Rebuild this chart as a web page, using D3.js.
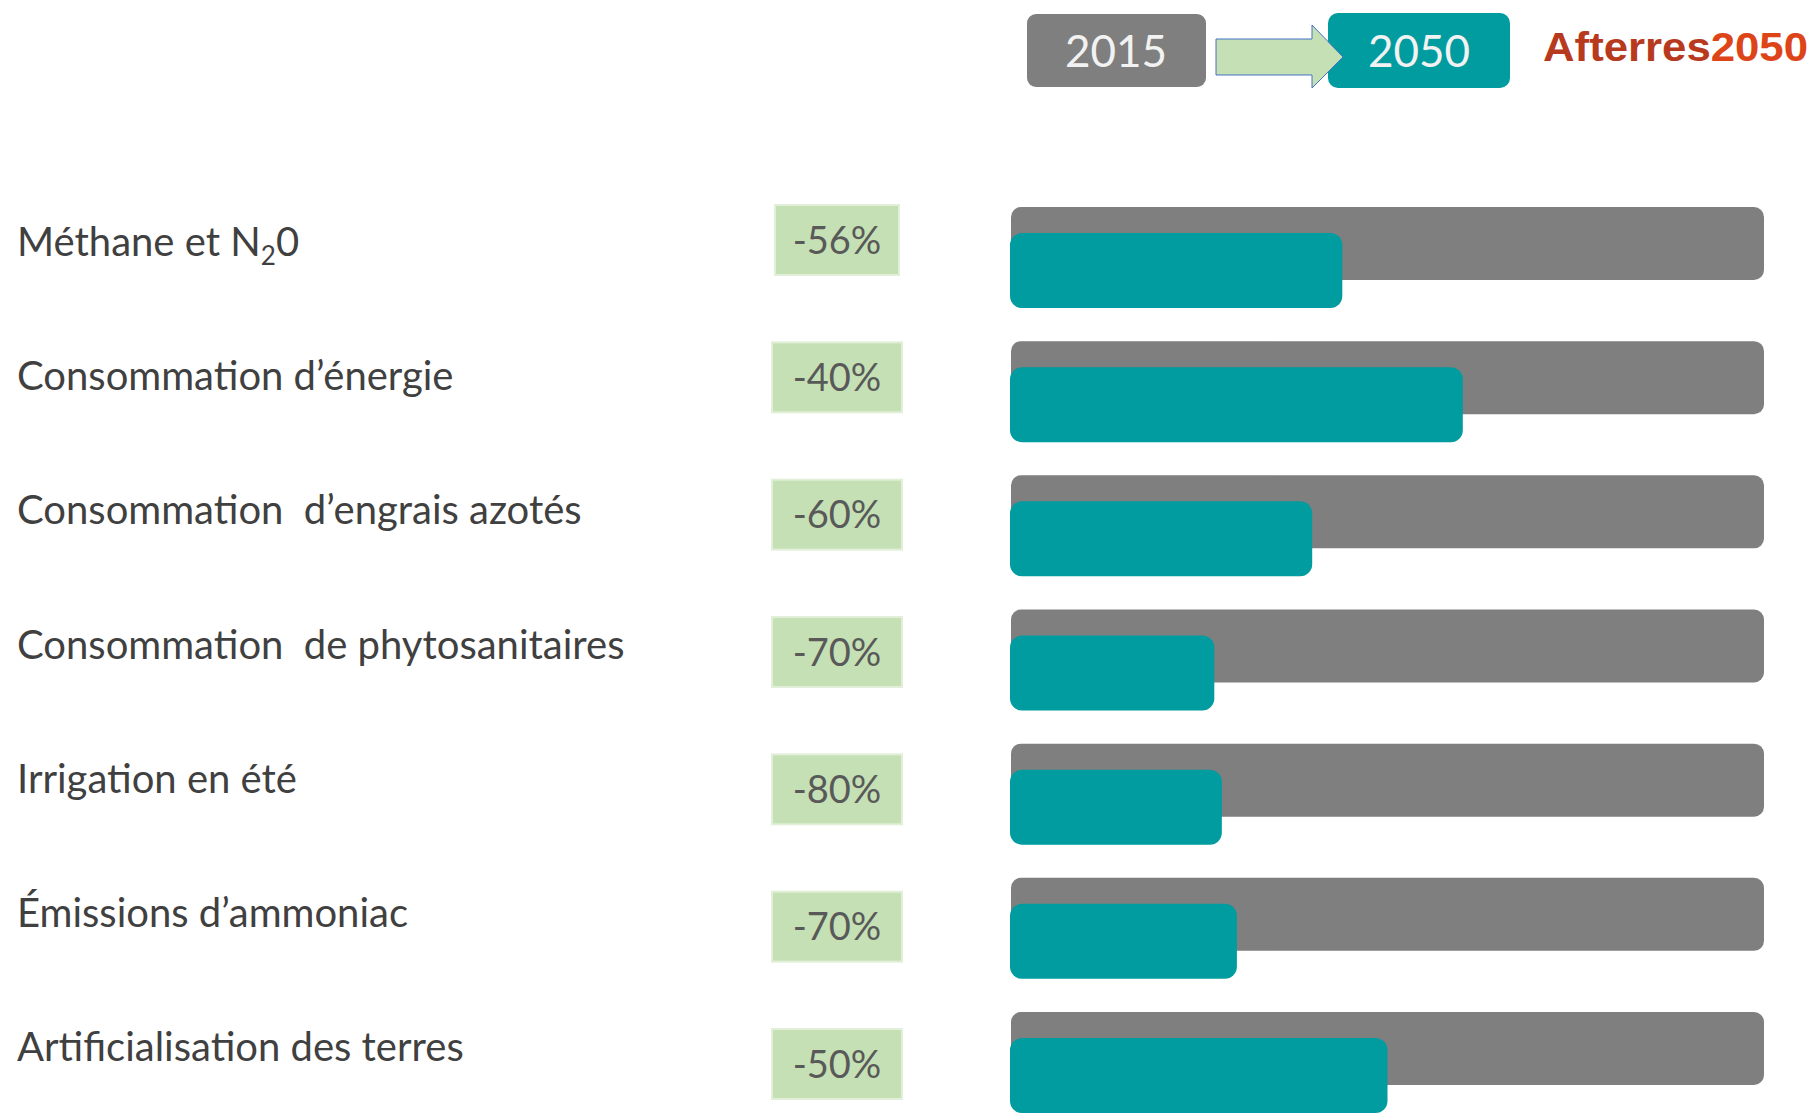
<!DOCTYPE html>
<html>
<head>
<meta charset="utf-8">
<script src="https://cdn.jsdelivr.net/npm/d3@7"></script>
<style>
  html, body { margin: 0; padding: 0; background: #fff; }
  svg text { white-space: pre; }
</style>
</head>
<body>
<div id="chart"></div>
<script>
// Data
const categories = [
    "Méthane et N₂0",
    "Consommation d’énergie",
    "Consommation  d’engrais azotés",
    "Consommation  de phytosanitaires",
    "Irrigation en été",
    "Émissions d’ammoniac",
    "Artificialisation des terres"
];
const changeLabels = ["-56%", "-40%", "-60%", "-70%", "-80%", "-70%", "-50%"];
const values2015 = [100, 100, 100, 100, 100, 100, 100];   // index 2015 = 100
const values2050 = [44, 60, 40, 27, 28, 30, 50];          // bar length as drawn
const years = ["2015", "2050"];

const rows = categories.map((c, i) => ({
    name: c,
    change: changeLabels[i],
    v2015: values2015[i],
    v2050: values2050[i]
}));

const width = 1817;
const height = 1114;
const grey = "#7f7f7f";
const teal = "#009ca0";
const green = "#c5e0b4";
const font = "Lato, 'Open Sans', sans-serif";

const svg = d3.select("#chart").append("svg")
    .attr("width", width)
    .attr("height", height)
    .style("background", "#fff");

// Scales
const x = d3.scaleLinear().domain([0, 100]).range([1011, 1764]);
const y = d3.scalePoint().domain(categories).range([207, 1012]);
const yBadge = d3.scalePoint().domain(categories).range([205, 1029]);
const barH = 73;
const tealH = 75;
const tealOff = 26;

// Header: 2015 -> 2050
svg.append("rect")
    .attr("x", 1027).attr("y", 14)
    .attr("width", 179).attr("height", 73)
    .attr("rx", 9)
    .attr("fill", grey);
svg.append("rect")
    .attr("x", 1328).attr("y", 13)
    .attr("width", 182).attr("height", 75)
    .attr("rx", 10)
    .attr("fill", teal);

// Arrow between the two boxes
svg.append("path")
    .attr("d", "M1216,39 L1312,39 L1312,25 L1343,57 L1312,88 L1312,75 L1216,75 Z")
    .attr("fill", green)
    .attr("stroke", "#4472c4")
    .attr("stroke-width", 1);

svg.selectAll(".year")
    .data(years)
    .enter()
    .append("text")
    .attr("class", "year")
    .attr("x", (d, i) => i === 0 ? 1116 : 1419)
    .attr("y", 51)
    .attr("dy", "0.36em")
    .attr("text-anchor", "middle")
    .attr("font-family", font)
    .attr("font-size", "44px")
    .attr("fill", "#f2f2f2")
    .text(d => d);

// Logo
const logo = svg.append("text")
    .attr("x", 1543)
    .attr("y", 61)
    .attr("font-family", "'Liberation Sans', Arial, sans-serif")
    .attr("font-weight", "bold")
    .attr("font-size", "40px")
    .attr("textLength", 265)
    .attr("lengthAdjust", "spacingAndGlyphs");
logo.append("tspan").attr("fill", "#b83a1e").text("Afterres");
logo.append("tspan").attr("fill", "#dd4418").text("2050");

// Category labels
const labels = svg.selectAll(".label")
    .data(rows)
    .enter()
    .append("text")
    .attr("class", "label")
    .attr("x", 17)
    .attr("y", d => y(d.name) + 35)
    .attr("dy", "0.35em")
    .attr("font-family", font)
    .attr("font-size", "40px")
    .attr("fill", "#404040");

labels.each(function(d) {
    const t = d3.select(this);
    if (d.name.includes("₂")) {
        const parts = d.name.split("₂");
        t.append("tspan").text(parts[0]);
        t.append("tspan").attr("font-size", "26px").attr("dy", "9").text("2");
        t.append("tspan").attr("dy", "-9").text(parts[1]);
    } else {
        t.text(d.name);
    }
});

// Change badges
const badges = svg.selectAll(".badge")
    .data(rows)
    .enter()
    .append("g")
    .attr("class", "badge")
    .attr("transform", d => `translate(837,${yBadge(d.name)})`);

badges.append("rect")
    .attr("x", (d, i) => i === 0 ? -62 : -65)
    .attr("y", 0)
    .attr("width", (d, i) => i === 0 ? 124 : 130)
    .attr("height", 70)
    .attr("fill", green)
    .attr("stroke", "#e2f0d9")
    .attr("stroke-width", 2);

badges.append("text")
    .attr("x", 0)
    .attr("y", 35)
    .attr("dy", "0.36em")
    .attr("text-anchor", "middle")
    .attr("font-family", font)
    .attr("font-size", "38px")
    .attr("fill", "#595959")
    .text(d => d.change);

// 2015 bars (grey)
svg.selectAll(".bar2015")
    .data(rows)
    .enter()
    .append("rect")
    .attr("class", "bar2015")
    .attr("x", x(0))
    .attr("y", d => y(d.name))
    .attr("width", d => x(d.v2015) - x(0))
    .attr("height", barH)
    .attr("rx", 10)
    .attr("fill", grey);

// 2050 bars (teal)
svg.selectAll(".bar2050")
    .data(rows)
    .enter()
    .append("rect")
    .attr("class", "bar2050")
    .attr("x", x(0) - 1)
    .attr("y", d => y(d.name) + tealOff)
    .attr("width", d => x(d.v2050) - x(0) + 1)
    .attr("height", tealH)
    .attr("rx", 12)
    .attr("fill", teal);
</script>
</body>
</html>
